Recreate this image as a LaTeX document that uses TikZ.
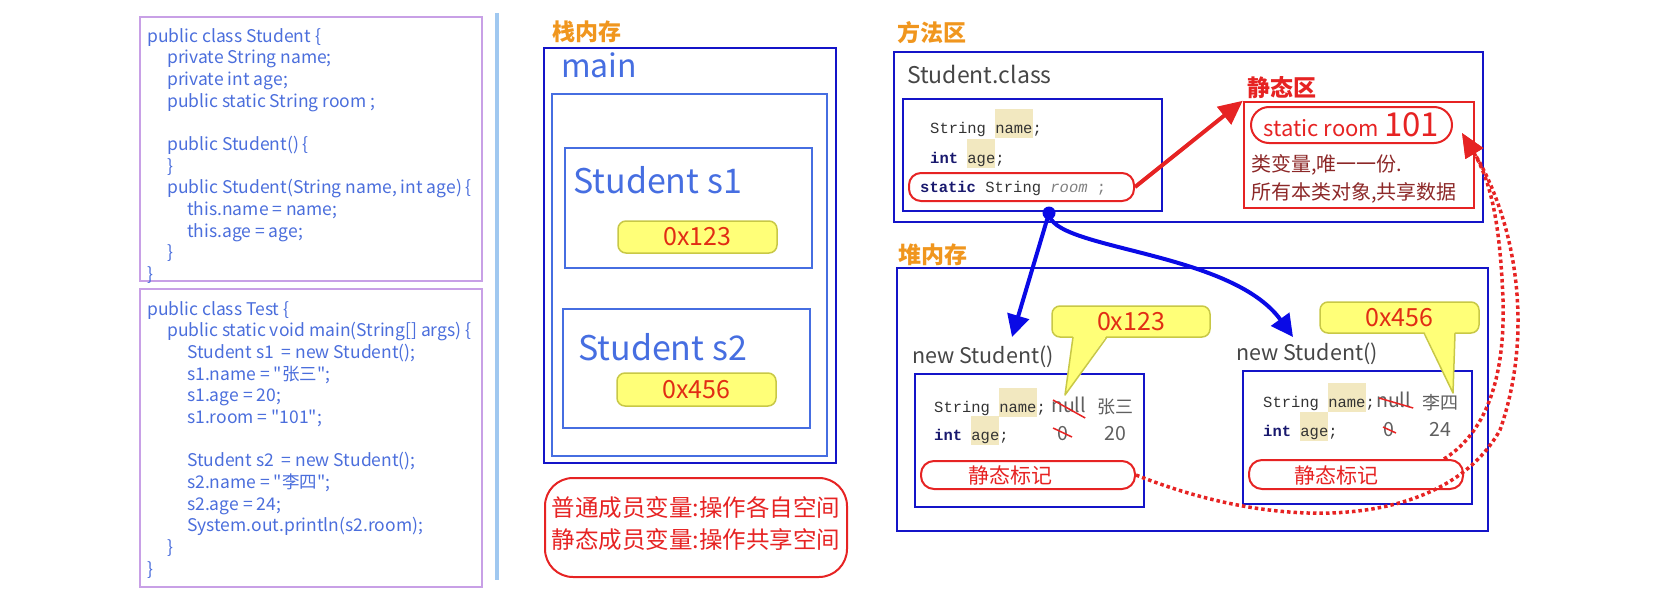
\documentclass[tikz,border=0pt]{standalone}
\usepackage{fontspec}
\setmainfont{Noto Sans CJK SC}[Ligatures=TeXOff]
\setmonofont{Liberation Mono}
\usetikzlibrary{arrows.meta,calc,positioning}

\definecolor{CodeBlue}{RGB}{75,110,220}
\definecolor{ListPurple}{RGB}{200,160,230}
\definecolor{LineBlue}{RGB}{160,200,240}
\definecolor{LabelOrange}{RGB}{240,150,30}
\definecolor{DeepBlue}{RGB}{20,20,200}
\definecolor{RoyalBlue}{RGB}{70,110,225}
\definecolor{MarkRed}{RGB}{230,35,35}
\definecolor{NoteRed}{RGB}{140,40,40}
\definecolor{AddrYellow}{RGB}{255,255,120}
\definecolor{AddrEdge}{RGB}{200,200,70}
\definecolor{AddrRed}{RGB}{225,45,20}
\definecolor{TextGray}{RGB}{70,70,70}
\definecolor{ValGray}{RGB}{95,95,95}
\definecolor{HiTan}{RGB}{242,232,192}
\definecolor{KeyNavy}{RGB}{25,25,110}
\definecolor{ArrowBlue}{RGB}{10,10,230}

\newcommand{\hlword}[1]{{\setlength{\fboxsep}{0pt}\colorbox{HiTan}{\rule[-4.5pt]{0pt}{28.5pt}#1}}}

\begin{document}
\begin{tikzpicture}[x=1pt, y=-1pt,
		listing/.style={anchor=north west, inner sep=0pt, align=left, text=CodeBlue, font=\fontsize{17.5}{21.65}\selectfont},
		codebox/.style={draw=ListPurple, line width=2pt, inner sep=0pt},
		deepbox/.style={draw=DeepBlue, line width=2.5pt, inner sep=0pt},
		stackbox/.style={draw=RoyalBlue, line width=2pt, inner sep=0pt},
		area/.style={text=LabelOrange, inner sep=0pt, font=\fontsize{23}{26}\selectfont\bfseries},
		addr/.style={fill=AddrYellow, draw=AddrEdge, line width=1.5pt, rounded corners=8pt, inner sep=0pt, text=AddrRed, font=\fontsize{25}{28}\selectfont},
		redbox/.style={draw=MarkRed, line width=2pt, inner sep=0pt},
		mono/.style={anchor=base west, inner sep=0pt, text=black!80, font=\fontsize{15.5}{18}\selectfont\ttfamily},
		valtext/.style={inner sep=0pt, text=ValGray, font=\fontsize{19.5}{22}\selectfont},
		strike/.style={draw=MarkRed, line width=1.5pt},
		blueref/.style={draw=ArrowBlue, line width=4pt, -{Triangle[length=22pt,width=22pt]}},
		dotref/.style={draw=MarkRed, line width=3.5pt, dash pattern=on 3.5pt off 3pt, -{Triangle[length=24pt,width=20pt]}}]
	\useasboundingbox (0,0) rectangle (1676,597);

	% 左边: 源代码
	\node[codebox, minimum width=342pt, minimum height=264pt] (srcStudent) at (311,149) {};
	\node[codebox, minimum width=342pt, minimum height=298pt] (srcTest) at (311,438) {};
	\node[listing] (codeStudent) at (147,22) {\rule{0pt}{20pt}public class Student \{\\
		\hspace*{20pt}private String name;\\
		\hspace*{20pt}private int age;\\
		\hspace*{20pt}public static String room ;\\
		\mbox{}\\
		\hspace*{20pt}public Student() \{\\
		\hspace*{20pt}\}\\
		\hspace*{20pt}public Student(String name, int age) \{\\
		\hspace*{40pt}this.name = name;\\
		\hspace*{40pt}this.age = age;\\
		\hspace*{20pt}\}\\
		\}};
	\node[listing] (codeTest) at (147,295) {\rule{0pt}{20pt}public class Test \{\\
		\hspace*{20pt}public static void main(String[] args) \{\\
		\hspace*{40pt}Student s1\ \ = new Student();\\
		\hspace*{40pt}s1.name = "张三";\\
		\hspace*{40pt}s1.age = 20;\\
		\hspace*{40pt}s1.room = "101";\\
		\mbox{}\\
		\hspace*{40pt}Student s2\ \ = new Student();\\
		\hspace*{40pt}s2.name = "李四";\\
		\hspace*{40pt}s2.age = 24;\\
		\hspace*{40pt}System.out.println(s2.room);\\
		\hspace*{20pt}\}\\
		\}};
	\draw[LineBlue, line width=4pt] (497,13) -- (497,580);

	% 栈内存
	\node[area] (stackLbl) at (587,32) {栈内存};
	\node[deepbox, minimum width=292pt, minimum height=415pt] (mainFrame) at (690,255.5) {};
	\node[anchor=base west, inner sep=0pt, text=RoyalBlue, font=\fontsize{32}{36}\selectfont] (mainLbl) at (561,77) {main};
	\node[stackbox, minimum width=275pt, minimum height=362pt] (mainInner) at (689.5,275) {};
	\node[stackbox, minimum width=247pt, minimum height=120pt] (varS1) at (688.5,208) {};
	\node[anchor=base west, inner sep=0pt, text=RoyalBlue, font=\fontsize{34}{38}\selectfont] (s1Lbl) at (573,193) {Student s1};
	\node[addr, minimum width=159pt, minimum height=32pt] (addrS1) at (697.5,237) {0x123};
	\node[stackbox, minimum width=247pt, minimum height=119pt] (varS2) at (686.5,368.5) {};
	\node[anchor=base west, inner sep=0pt, text=RoyalBlue, font=\fontsize{34}{38}\selectfont] (s2Lbl) at (578,360) {Student s2};
	\node[addr, minimum width=159pt, minimum height=33pt] (addrS2) at (696.5,389.5) {0x456};
	\node[redbox, rounded corners=28pt, minimum width=302pt, minimum height=99pt] (ruleNote) at (696,527.5) {};
	\node[inner sep=0pt, text=MarkRed, align=center, font=\fontsize{23.5}{32}\selectfont] (ruleText) at (696,524) {普通成员变量:操作各自空间\\静态成员变量:操作共享空间};

	% 方法区
	\node[area] (methodLbl) at (932,33) {方法区};
	\node[deepbox, minimum width=589pt, minimum height=170pt] (methodArea) at (1188.5,137) {};
	\node[anchor=base west, inner sep=0pt, text=TextGray, font=\fontsize{23}{26}\selectfont] (classLbl) at (907,83) {Student.class};
	\node[deepbox, minimum width=259pt, minimum height=112pt] (classBox) at (1032.5,155) {};
	\node[mono] (clsName) at (930,133) {String \hlword{name};};
	\node[mono] (clsAge) at (930,163) {\textcolor{KeyNavy}{\textbf{int}} \hlword{age};};
	\node[redbox, rounded corners=12pt, minimum width=225pt, minimum height=28pt] (clsRoom) at (1021.5,187) {};
	\node[mono] (clsRoomTxt) at (920,192) {\textcolor{KeyNavy}{\textbf{static}} String \textcolor{gray}{\textit{room} ;}};

	% 静态区
	\node[inner sep=0pt, text=MarkRed, font=\fontsize{23}{26}\selectfont\bfseries] (staticLbl) at (1282,88) {静态区};
	\node[redbox, line width=2.5pt, minimum width=230pt, minimum height=106pt] (staticArea) at (1359,155) {};
	\node[redbox, rounded corners=18pt, minimum width=201pt, minimum height=36pt, text=MarkRed] (roomVal) at (1351.5,125) {\fontsize{22}{24}\selectfont static room\ \fontsize{33}{36}\selectfont 101};
	\node[anchor=west, inner sep=0pt, text=NoteRed, font=\fontsize{20}{24}\selectfont] (staticNote1) at (1251,165) {类变量,唯一一份.};
	\node[anchor=west, inner sep=0pt, text=NoteRed, font=\fontsize{20}{24}\selectfont] (staticNote2) at (1251,193) {所有本类对象,共享数据};

	% 堆内存
	\node[area] (heapLbl) at (933,255) {堆内存};
	\node[deepbox, minimum width=591pt, minimum height=263pt] (heapArea) at (1192.5,399.5) {};

	% 第一个对象 0x123
	\node[anchor=base west, inner sep=0pt, text=TextGray, font=\fontsize{21.5}{24}\selectfont] (newL) at (912,363) {new Student()};
	\node[deepbox, minimum width=229pt, minimum height=133pt] (objL) at (1029.5,440.5) {};
	\node[mono] (nameL) at (934,412) {String \hlword{name};};
	\node[mono] (ageL) at (934,440) {\textcolor{KeyNavy}{\textbf{int}} \hlword{age};};
	\node[valtext, anchor=base west] (nullA) at (1051,412) {null};
	\node[valtext, font=\fontsize{18}{20}\selectfont] (nameValA) at (1115,407) {张三};
	\node[valtext, anchor=base] (zeroA) at (1063,440) {0};
	\node[valtext, anchor=base] (ageValA) at (1115,440) {20};
	\draw[strike] ($(nullA.base west)+(2,-12)$) -- ($(nullA.base east)+(-1,6)$);
	\draw[strike] ($(zeroA.base)+(-10,-12)$) -- ($(zeroA.base)+(9,-3)$);
	\node[redbox, rounded corners=13pt, minimum width=214pt, minimum height=28pt] (markL) at (1028,475) {};
	\node[inner sep=0pt, text=MarkRed, font=\fontsize{21}{24}\selectfont] (markLTxt) at (1010,475) {静态标记};
	\node[addr, minimum width=158pt, minimum height=31pt] (tagL) at (1131,321.5) {0x123};
	\fill[AddrYellow] (1073,335) -- (1065,395) -- (1107,335) -- cycle;
	\draw[AddrEdge, line width=1.5pt, line join=round] (1073,337) -- (1065,395) -- (1107,337);

	% 第二个对象 0x456
	\node[anchor=base west, inner sep=0pt, text=TextGray, font=\fontsize{21.5}{24}\selectfont] (newR) at (1236,360) {new Student()};
	\node[deepbox, minimum width=229pt, minimum height=133pt] (objR) at (1357.5,437.5) {};
	\node[mono] (nameR) at (1263,407) {String \hlword{name};};
	\node[mono] (ageR) at (1263,436) {\textcolor{KeyNavy}{\textbf{int}} \hlword{age};};
	\node[valtext, anchor=base west] (nullB) at (1376,407) {null};
	\node[valtext, font=\fontsize{18}{20}\selectfont] (nameValB) at (1440,403) {李四};
	\node[valtext, anchor=base] (zeroB) at (1389,436) {0};
	\node[valtext, anchor=base] (ageValB) at (1440,436) {24};
	\draw[strike] ($(nullB.base west)+(3,-9)$) -- ($(nullB.base east)+(2,1)$);
	\draw[strike] ($(zeroB.base)+(-6,-9)$) -- ($(zeroB.base)+(7,-3)$);
	\node[redbox, rounded corners=13pt, minimum width=214pt, minimum height=29pt] (markR) at (1356,474.5) {};
	\node[inner sep=0pt, text=MarkRed, font=\fontsize{21}{24}\selectfont] (markRTxt) at (1336,475) {静态标记};
	\node[addr, minimum width=159pt, minimum height=31pt] (tagR) at (1399.5,317.5) {0x456};
	\fill[AddrYellow] (1424,331) -- (1453,393) -- (1455,331) -- cycle;
	\draw[AddrEdge, line width=1.5pt, line join=round] (1424,333) -- (1453,393) -- (1455,333);

	% 引用关系
	\coordinate (classRef) at (1049,213);
	\coordinate (tipL) at (1012,337);
	\coordinate (tipR) at (1293,337);
	\coordinate (roomTip) at (1462,133);
	\draw[blueref] (classRef) -- (tipL);
	\draw[blueref] (classRef) .. controls (1050,250) and (1230,250) .. (tipR);
	\fill[ArrowBlue] (classRef) circle (6.5pt);
	\draw[MarkRed, line width=4pt, -{Triangle[length=24pt,width=22pt]}] (clsRoom.east) -- (staticArea.north west);
	\draw[dotref] (markL.east) .. controls (1300,540) and (1450,520) .. (1500,430) .. controls (1535,330) and (1515,220) .. (roomTip);
	\draw[dotref] ($(markR.north east)+(-20,0)$) .. controls (1490,430) and (1505,370) .. (1503,300) .. controls (1500,220) and (1490,180) .. (roomTip);
\end{tikzpicture}
\end{document}
